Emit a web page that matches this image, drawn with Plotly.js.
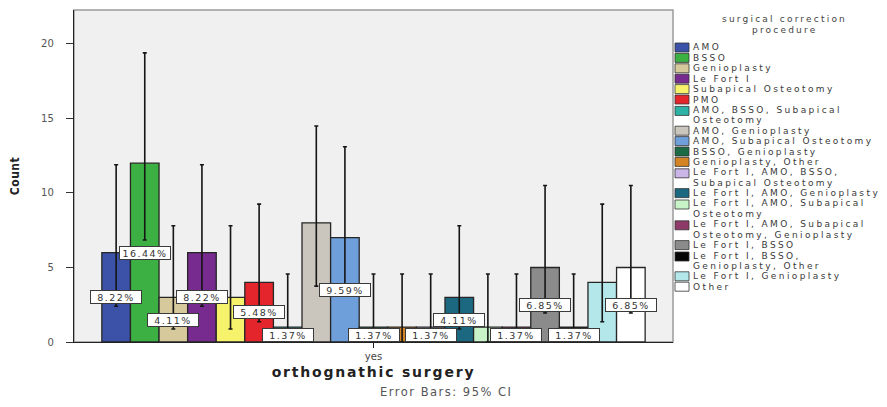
<!DOCTYPE html>
<html><head><meta charset="utf-8">
<script src="https://cdn.plot.ly/plotly-3.0.1.min.js"></script>
<style>
html,body{margin:0;padding:0;background:#fff;}
#chart{width:887px;height:407px;}
.annotation-text{letter-spacing:1.5px;}
.xtitle{letter-spacing:1.8px;}
.ytitle{letter-spacing:0.5px;}
</style></head><body><div id="chart"></div>
<script>
// ---- data ----
const xCategory = ['yes'];
const categories = [
  'AMO', 'BSSO', 'Genioplasty', 'Le Fort I', 'Subapical Osteotomy', 'PMO',
  'AMO, BSSO, Subapical Osteotomy', 'AMO, Genioplasty', 'AMO, Subapical Osteotomy',
  'BSSO, Genioplasty', 'Genioplasty, Other', 'Le Fort I, AMO, BSSO, Subapical Osteotomy',
  'Le Fort I, AMO, Genioplasty', 'Le Fort I, AMO, Subapical Osteotomy',
  'Le Fort I, AMO, Subapical Osteotomy, Genioplasty', 'Le Fort I, BSSO',
  'Le Fort I, BSSO, Genioplasty, Other', 'Le Fort I, Genioplasty', 'Other'
];
const counts  = [6, 12, 3, 6, 3, 4, 1, 8, 7, 1, 1, 1, 3, 1, 1, 5, 1, 4, 5];
const ciLower = [2.4, 6.85, 0.87, 2.4, 0.87, 1.36, 0, 3.75, 3.1, 0, 0, 0, 0.87, 0, 0, 1.95, 0, 1.36, 1.95];
const ciUpper = [11.9, 19.4, 7.8, 11.9, 7.8, 9.25, 4.56, 14.5, 13.1, 4.56, 4.56, 4.56, 7.8, 4.56, 4.56, 10.5, 4.56, 9.25, 10.5];
const showPct = [1, 1, 1, 1, 0, 1, 1, 0, 1, 1, 0, 1, 1, 0, 1, 1, 1, 0, 1];
const colors = ['#3B52A8', '#3DB043', '#D6C99C', '#772B8E', '#F7F26C', '#E4262C',
  '#2DB3A6', '#CBC6BD', '#6F9FDB', '#1D6B46', '#D58424', '#C9B6E6',
  '#1B6880', '#C8F2C8', '#8E3A68', '#8B8B8B', '#050505', '#B3E7EA', '#FFFFFF'];

// ---- geometry helpers (layout only) ----
const L = 74, T = 10, W = 599, H = 332, WIDTH = 887, HEIGHT = 407;
const bargap = 0.093;
const xp = px => (px - L) / W;
const yp = py => (T + H - py) / H;

const total = counts.reduce((a, b) => a + b, 0);
const n = categories.length;
const bw = (1 - bargap) / n;

const traces = categories.map((c, i) => ({
  type: 'bar', name: c, x: xCategory, y: [counts[i]],
  marker: {color: colors[i], line: {color: '#262626', width: 1.3}},
  error_y: {type: 'data', symmetric: false,
    array: [ciUpper[i] - counts[i]], arrayminus: [counts[i] - ciLower[i]],
    color: '#151515', thickness: 1.6, width: 2},
  hoverinfo: 'name+y'
}));

const annotations = [];
const shapes = [];

// percentage labels
categories.forEach((c, i) => {
  if (!showPct[i]) return;
  annotations.push({
    xref: 'x', yref: 'y', x: -(1 - bargap) / 2 + (i + 0.5) * bw, y: counts[i] / 2,
    text: (counts[i] / total * 100).toFixed(2) + '%', showarrow: false,
    width: 48, height: 10, borderpad: 1, bgcolor: '#FFFFFF', bordercolor: '#3a3a3a', borderwidth: 1,
    font: {family: 'DejaVu Sans', size: 9.5, color: '#333'}, xanchor: 'center', yanchor: 'middle'
  });
});

// legend (drawn manually for compact SPSS-like spacing)
function wrap(s, maxLen) {
  const words = s.split(' '); const lines = []; let cur = '';
  words.forEach(w => {
    const t = cur ? cur + ' ' + w : w;
    if (t.length > maxLen && cur) { lines.push(cur); cur = w; } else cur = t;
  });
  if (cur) lines.push(cur);
  return lines;
}
const spaced = (t, s) => '<span style="letter-spacing:' + s + 'px">' + t + '</span>';
annotations.push({xref: 'paper', yref: 'paper', x: xp(784), y: yp(19), text: spaced('surgical correction', 2.2),
  showarrow: false, xanchor: 'center', yanchor: 'middle', font: {family: 'DejaVu Sans', size: 9, color: '#444'}});
annotations.push({xref: 'paper', yref: 'paper', x: xp(784), y: yp(30.5), text: spaced('procedure', 2.2),
  showarrow: false, xanchor: 'center', yanchor: 'middle', font: {family: 'DejaVu Sans', size: 9, color: '#444'}});
let line = 0;
const lTop = 47.5, lStep = 10.4;
categories.forEach((c, i) => {
  const lines = wrap(c, 27);
  const cy = lTop + line * lStep;
  const off = lines.length > 1 ? 1 : 0;
  shapes.push({type: 'rect', xref: 'paper', yref: 'paper', x0: xp(675), x1: xp(689),
    y0: yp(cy + 4.5 + off), y1: yp(cy - 4.5 + off),
    fillcolor: colors[i], line: {color: '#333', width: 0.8}});
  lines.forEach((t, k) => {
    annotations.push({xref: 'paper', yref: 'paper', x: xp(691), y: yp(cy + k * lStep), text: spaced(t, 2.4),
      showarrow: false, xanchor: 'left', yanchor: 'middle',
      font: {family: 'DejaVu Sans', size: 9, color: '#3a3a3a'}});
  });
  line += lines.length;
});

// footnote
annotations.push({xref: 'paper', yref: 'paper', x: xp(446), y: yp(392), text: 'Error Bars: 95% CI',
  showarrow: false, xanchor: 'center', yanchor: 'middle', font: {family: 'DejaVu Sans', size: 11.5, color: '#555'}});

// plot frame
shapes.push({type: 'rect', xref: 'paper', yref: 'paper', x0: 0, x1: 1, y0: 0, y1: 1,
  line: {color: '#9a9a9a', width: 1.5}, layer: 'below'});

const layout = {
  width: WIDTH, height: HEIGHT,
  margin: {l: L, r: WIDTH - L - W, t: T, b: HEIGHT - T - H, pad: 0},
  paper_bgcolor: '#FFFFFF', plot_bgcolor: '#F0F0F0',
  barmode: 'group', bargap: bargap, bargroupgap: 0,
  showlegend: false,
  xaxis: {type: 'category', range: [-0.5, 0.5], showline: true, linecolor: '#222', linewidth: 1.2,
    ticks: 'outside', ticklen: 5, tickcolor: '#222', showgrid: false, zeroline: false,
    tickfont: {family: 'DejaVu Sans', size: 10, color: '#444'},
    title: {text: 'orthognathic surgery', standoff: 6,
      font: {family: 'DejaVu Sans', size: 14, color: '#222', weight: 'bold'}}},
  yaxis: {range: [0, 22.28], tickvals: [0, 5, 10, 15, 20], showline: true, linecolor: '#222', linewidth: 1.2,
    ticks: 'outside', ticklen: 7, tickcolor: '#333', showgrid: false, zeroline: false,
    ticklabelstandoff: 10,
    tickfont: {family: 'DejaVu Sans', size: 10, color: '#555'},
    title: {text: 'Count', standoff: 18,
      font: {family: 'DejaVu Sans Condensed, DejaVu Sans', size: 12, color: '#222', weight: 'bold'}}},
  annotations: annotations, shapes: shapes
};

Plotly.newPlot('chart', traces, layout, {displayModeBar: false, staticPlot: true});
</script></body></html>
